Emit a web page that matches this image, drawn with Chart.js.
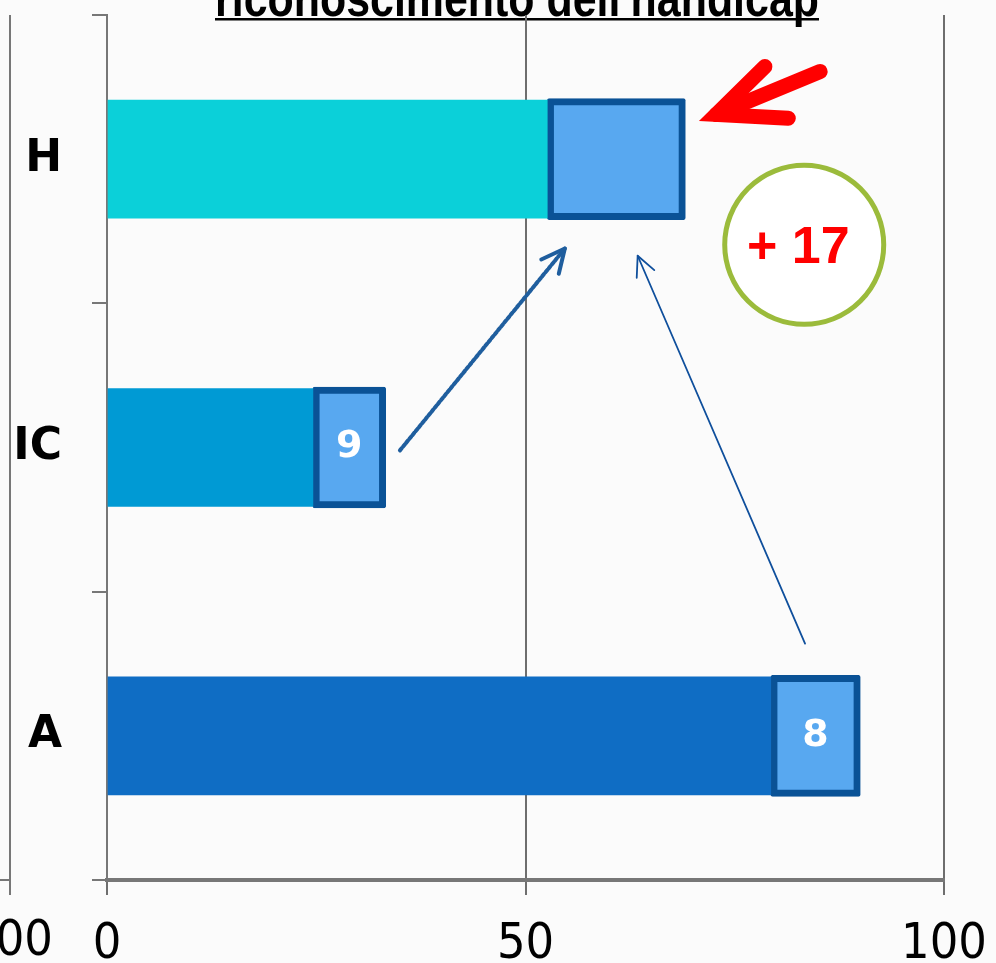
<!DOCTYPE html>
<html>
<head>
<meta charset="utf-8">
<script src="https://cdn.jsdelivr.net/npm/chart.js@4/dist/chart.umd.min.js"></script>
<style>
  html, body { margin: 0; padding: 0; background: #fbfbfb; }
  #wrap { width: 996px; height: 963px; }
</style>
</head>
<body>
<div id="wrap"><canvas id="chart" width="996" height="963"></canvas></div>
<script>
// Data
const categories = ["H", "IC", "A"]
const baseValues = [52.6, 24.6, 79.3]
const gainValues = [16.5, 8.7, 10.7]
const gainLabels = ["", "9", "8"]
const xTicks = [0, 50, 100]
const titleText = "riconoscimento dell'handicap"
const badgeText = "+ 17"

const barColors = ["#0BD0D9", "#009AD4", "#0F6DC4"]
const boxFill = "#58A8F0"
const boxBorder = "#0A5296"
const axisGrey = "#777777"

// Annotation anchors in data units (x value, category index)
const dashedArrow = { from: [35.0, 1.01], to: [54.7, 0.31] }
const thinArrow = { from: [83.4, 1.68], to: [63.4, 0.335] }
const redArrow = { tip: [72.8, -0.155], tail: [85.2, -0.304], armA: [78.6, -0.321], armB: [81.4, -0.142] }
const badge = { center: [83.3, 0.297], radius: 82 }

function px(chart, pt) {
  return [chart.scales.x.getPixelForValue(pt[0]), chart.scales.y.getPixelForValue(pt[1])]
}

function drawArrow(ctx, a, b, head, width, color, dash) {
  const ang = Math.atan2(b[1] - a[1], b[0] - a[0])
  ctx.save()
  ctx.strokeStyle = color
  ctx.lineWidth = width
  ctx.lineCap = "round"
  ctx.lineJoin = "round"
  if (dash) ctx.setLineDash(dash)
  ctx.beginPath()
  ctx.moveTo(a[0], a[1])
  ctx.lineTo(b[0], b[1])
  ctx.stroke()
  ctx.setLineDash([])
  ctx.beginPath()
  ctx.moveTo(b[0] - head * Math.cos(ang - 0.45), b[1] - head * Math.sin(ang - 0.45))
  ctx.lineTo(b[0], b[1])
  ctx.lineTo(b[0] - head * Math.cos(ang + 0.45), b[1] - head * Math.sin(ang + 0.45))
  ctx.stroke()
  ctx.restore()
}

const decorPlugin = {
  id: "decor",
  beforeDraw(chart) {
    const ctx = chart.ctx
    const area = chart.chartArea
    ctx.save()
    ctx.fillStyle = "#fbfbfb"
    ctx.fillRect(0, 0, chart.width, chart.height)
    // neighbouring chart's edge on the left
    ctx.strokeStyle = axisGrey
    ctx.lineWidth = 2
    ctx.beginPath()
    ctx.moveTo(10, area.top)
    ctx.lineTo(10, area.bottom + 15)
    ctx.moveTo(0, area.bottom)
    ctx.lineTo(10, area.bottom)
    ctx.stroke()
    ctx.fillStyle = "#000"
    ctx.font = "50px 'DejaVu Sans Condensed', 'DejaVu Sans'"
    ctx.textAlign = "center"
    ctx.textBaseline = "top"
    ctx.fillText("100", 10, area.bottom + 37)
    // title, cut at the top edge; squeezed to look condensed
    ctx.font = "bold 52px 'Liberation Sans Narrow', 'Liberation Sans'"
    ctx.textBaseline = "alphabetic"
    const w = ctx.measureText(titleText).width
    const sx = 604 / w
    ctx.translate(517, 0)
    ctx.scale(sx, 1)
    ctx.fillText(titleText, 0, 16)
    ctx.fillRect(-w / 2, 18, w, 2.5)
    ctx.restore()
  },
  afterDatasetsDraw(chart) {
    const ctx = chart.ctx
    // labels inside the gain boxes
    const meta = chart.getDatasetMeta(1)
    ctx.save()
    ctx.fillStyle = "#ffffff"
    ctx.font = "bold 38px 'DejaVu Sans'"
    ctx.textAlign = "center"
    ctx.textBaseline = "middle"
    meta.data.forEach((el, i) => {
      if (!gainLabels[i]) return
      ctx.fillText(gainLabels[i], (el.x + el.base) / 2, el.y)
    })
    ctx.restore()

    drawArrow(ctx, px(chart, dashedArrow.from), px(chart, dashedArrow.to), 26, 4, "#1F5E9E", [3, 2])
    drawArrow(ctx, px(chart, thinArrow.from), px(chart, thinArrow.to), 22, 1.8, "#0F4F9C", null)

    // red pointer arrow
    const tip = px(chart, redArrow.tip)
    const tail = px(chart, redArrow.tail)
    const armA = px(chart, redArrow.armA)
    const armB = px(chart, redArrow.armB)
    ctx.save()
    ctx.strokeStyle = "#FF0000"
    ctx.lineWidth = 15
    ctx.lineCap = "round"
    ctx.lineJoin = "miter"
    ctx.beginPath()
    ctx.moveTo(tail[0], tail[1])
    ctx.lineTo(tip[0], tip[1])
    ctx.stroke()
    ctx.beginPath()
    ctx.moveTo(armA[0], armA[1])
    ctx.lineTo(tip[0], tip[1])
    ctx.lineTo(armB[0], armB[1])
    ctx.stroke()
    ctx.restore()

    // "+ 17" badge
    const c = px(chart, badge.center)
    ctx.save()
    ctx.beginPath()
    ctx.arc(c[0], c[1], badge.radius - 2.5, 0, Math.PI * 2)
    ctx.fillStyle = "#ffffff"
    ctx.fill()
    ctx.lineWidth = 5
    ctx.strokeStyle = "#9BBB3B"
    ctx.stroke()
    ctx.fillStyle = "#FF0000"
    ctx.font = "bold 52px 'Liberation Sans Narrow', 'Liberation Sans'"
    ctx.textAlign = "center"
    ctx.textBaseline = "middle"
    ctx.fillText(badgeText, c[0] - 6, c[1] + 4)
    ctx.restore()
  },
}

new Chart(document.getElementById("chart"), {
  type: "bar",
  data: {
    labels: categories,
    datasets: [
      {
        data: baseValues,
        backgroundColor: barColors,
        borderWidth: 0,
        barThickness: 118,
      },
      {
        data: gainValues,
        backgroundColor: boxFill,
        borderColor: boxBorder,
        borderWidth: 7,
        borderRadius: 2,
        borderSkipped: false,
        barThickness: 121,
      },
    ],
  },
  options: {
    indexAxis: "y",
    responsive: false,
    animation: false,
    layout: { padding: { top: 15, right: 52, left: 0, bottom: 0 } },
    scales: {
      x: {
        stacked: true,
        min: 0,
        max: 100,
        afterBuildTicks: (s) => { s.ticks = xTicks.map((v) => ({ value: v })) },
        afterFit: (s) => {
          s.height = 83
          s.paddingLeft = 0
          s.paddingRight = 0
        },
        grid: { color: "#6e6e6e", lineWidth: 2, tickLength: 15, drawTicks: true },
        border: { display: true, color: axisGrey, width: 4 },
        ticks: {
          color: "#000",
          padding: 20,
          font: { family: "'DejaVu Sans Condensed', 'DejaVu Sans'", size: 50 },
          maxRotation: 0,
        },
      },
      y: {
        stacked: true,
        afterFit: (s) => {
          s.width = 107
          s.paddingTop = 0
          s.paddingBottom = 0
        },
        grid: { drawOnChartArea: false, tickLength: 15, color: axisGrey, lineWidth: 2 },
        border: { display: true, color: axisGrey, width: 2 },
        ticks: {
          color: "#000",
          padding: 30,
          font: { family: "'DejaVu Sans'", size: 44, weight: "bold" },
        },
      },
    },
    plugins: {
      legend: { display: false },
      tooltip: { enabled: false },
    },
  },
  plugins: [decorPlugin],
})
</script>
</body>
</html>
